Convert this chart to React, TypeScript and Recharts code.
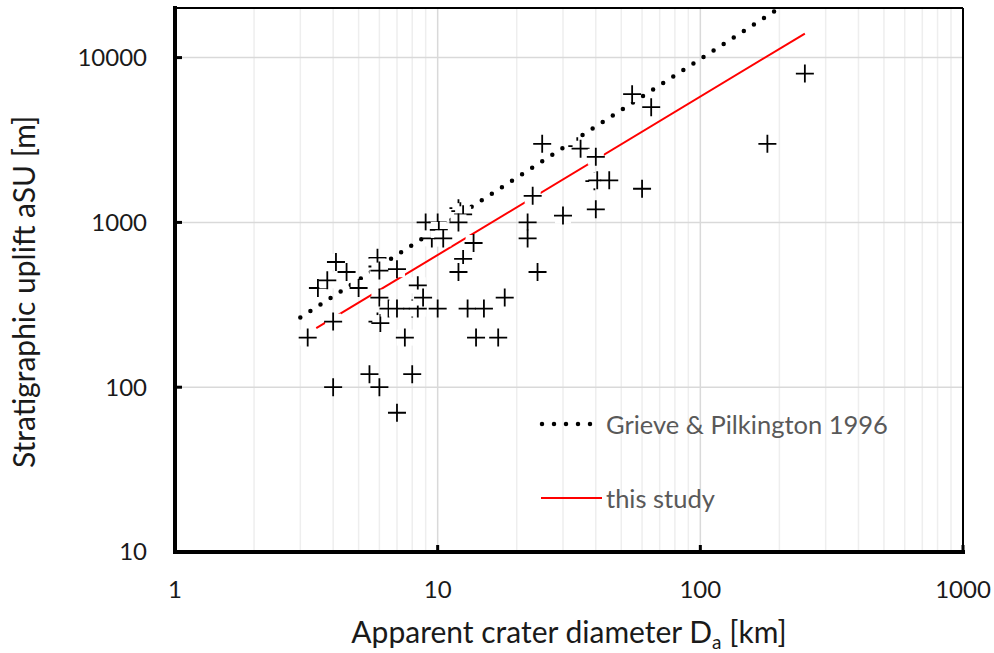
import React from "react";
import { ScatterChart, Scatter, XAxis, YAxis, ReferenceLine, Legend, Label } from "recharts";

// crater data: apparent diameter (km) vs stratigraphic uplift (m)
const craterDiameterKm = [
  3.2, 3.5, 3.8, 4, 4, 4.1, 4.5, 5, 5.5, 5.9, 5.9, 6, 6, 5.9, 6.05, 6, 6.5, 7, 7, 7,
  7.5, 8, 8, 8.4, 8.4, 8.8, 9, 9.5, 10, 10.1, 10.5, 10, 12, 12.2, 12.5, 12, 13.7, 12.5, 12, 13,
  15, 14, 17, 18, 22, 22, 23, 24, 25, 30, 34, 35, 40, 39.5, 40.5, 45, 40, 55, 60, 65,
  180, 250,
];
const upliftM = [
  200, 400, 445, 250, 100, 575, 500, 400, 120, 610, 540, 510, 350, 250, 245, 100, 300, 520, 300, 70,
  200, 300, 120, 300, 415, 350, 1000, 800, 1000, 900, 800, 300, 1220, 1170, 1120, 1000, 750, 600, 500, 300,
  300, 200, 200, 350, 1000, 800, 1450, 500, 3000, 1100, 2900, 2800, 2500, 1780, 1800, 1800, 1200, 6000, 1600, 5000,
  3000, 8000,
];

// Grieve & Pilkington 1996 trend
const grieveX = [3, 195];
const grieveY = [265, 19500];

// this study trend
const studyX = [3.45, 250];
const studyY = [228, 14000];

const xTicks = [1, 10, 100, 1000];
const yTicks = [10, 100, 1000, 10000];
const minorX = [2, 3, 4, 5, 6, 7, 8, 9, 20, 30, 40, 50, 60, 70, 80, 90, 200, 300, 400, 500, 600, 700, 800, 900];

const craters = craterDiameterKm.map((x, i) => ({ x, y: upliftM[i] }));
const grieve = grieveX.map((x, i) => ({ x, y: grieveY[i] }));
const study = studyX.map((x, i) => ({ x, y: studyY[i] }));

const FONT = "Lato, 'Open Sans', sans-serif";

const PlusMarker = (props: any) => {
  const { cx, cy } = props;
  return (
    <g>
      <rect x={cx - 8} y={cy - 8} width={16} height={16} fill="#fff" />
      <path d={`M${cx - 9},${cy}H${cx + 9}M${cx},${cy - 9}V${cy + 9}`} stroke="#000" strokeWidth={1.8} />
    </g>
  );
};

const NoMarker = () => <g />;

const YTick = (props: any) => {
  const { x, y, payload } = props;
  return (
    <g>
      <line x1={x} x2={x + 7} y1={y} y2={y} stroke="#000" strokeWidth={3} />
      <text x={x - 28} y={y} dy="0.35em" textAnchor="end" fontSize={24} fill="#1a1a1a" fontFamily={FONT}>
        {payload.value}
      </text>
    </g>
  );
};

const XTick = (props: any) => {
  const { x, y, payload } = props;
  return (
    <g>
      <line x1={x} x2={x} y1={y} y2={y - 7} stroke="#000" strokeWidth={3} />
      <text x={x} y={y + 38} dy="0.35em" textAnchor="middle" fontSize={24} fill="#1a1a1a" fontFamily={FONT}>
        {payload.value}
      </text>
    </g>
  );
};

const XTitle = (props: any) => {
  const { viewBox } = props;
  const cx = viewBox.x + viewBox.width / 2;
  const y = viewBox.y + viewBox.height - 10;
  return (
    <text x={cx} y={y} textAnchor="middle" fontSize={30} fill="#1a1a1a" fontFamily={FONT}>
      Apparent crater diameter D<tspan fontSize={19} dy={6}>a</tspan>
      <tspan dy={-6}> [km]</tspan>
    </text>
  );
};

const YTitle = (props: any) => {
  const { viewBox } = props;
  const x = viewBox.x + 35;
  const y = viewBox.y + viewBox.height / 2 + 12;
  return (
    <text
      x={x}
      y={y}
      transform={`rotate(-90, ${x}, ${y})`}
      textAnchor="middle"
      fontSize={30}
      fill="#1a1a1a"
      fontFamily={FONT}
    >
      Stratigraphic uplift aSU [m]
    </text>
  );
};

const LegendBox = () => (
  <div style={{ fontFamily: FONT, fontSize: 25.5, color: "#595959" }}>
    <div style={{ display: "flex", alignItems: "center", height: 30 }}>
      <svg width={68} height={10}>
        <line x1={4} x2={64} y1={5} y2={5} stroke="#000" strokeWidth={4.5} strokeDasharray="0 12" strokeLinecap="round" />
      </svg>
      <span>Grieve &amp; Pilkington 1996</span>
    </div>
    <div style={{ display: "flex", alignItems: "center", height: 30, marginTop: 44 }}>
      <svg width={68} height={10}>
        <line x1={3} x2={64} y1={5} y2={5} stroke="#ff0000" strokeWidth={2} />
      </svg>
      <span>this study</span>
    </div>
  </div>
);

export default function App() {
  return (
    <div style={{ position: "absolute", left: 0, top: 0, background: "#fff" }}>
      <ScatterChart width={994} height={653} margin={{ top: 8, right: 31, bottom: 0, left: 0 }}>
        <XAxis
          type="number"
          dataKey="x"
          scale="log"
          domain={[1, 1000]}
          ticks={xTicks}
          allowDataOverflow
          height={101}
          tickSize={0}
          tickMargin={0}
          tick={<XTick />}
          tickLine={false}
          axisLine={{ stroke: "#000", strokeWidth: 4, strokeLinecap: "square" }}
          label={<Label content={<XTitle />} />}
        />
        <YAxis
          type="number"
          dataKey="y"
          scale="log"
          domain={[10, 20000]}
          ticks={yTicks}
          allowDataOverflow
          width={175}
          tickSize={0}
          tickMargin={0}
          tick={<YTick />}
          tickLine={false}
          axisLine={{ stroke: "#000", strokeWidth: 4, strokeLinecap: "square" }}
          label={<Label content={<YTitle />} />}
        />
        {minorX.map((v) => (
          <ReferenceLine key={"mx" + v} x={v} stroke="#eeeeee" strokeWidth={1.5} />
        ))}
        {[10, 100].map((v) => (
          <ReferenceLine key={"gx" + v} x={v} stroke="#d9d9d9" strokeWidth={1.5} />
        ))}
        {[100, 1000, 10000].map((v) => (
          <ReferenceLine key={"gy" + v} y={v} stroke="#d9d9d9" strokeWidth={1.5} />
        ))}
        <ReferenceLine y={20000} stroke="#000" strokeWidth={2} />
        <ReferenceLine x={1000} stroke="#000" strokeWidth={2} />
        <Scatter
          name="Grieve & Pilkington 1996"
          data={grieve}
          shape={<NoMarker />}
          line={{ stroke: "#000", strokeWidth: 4.5, strokeDasharray: "0 12", strokeLinecap: "round" }}
          isAnimationActive={false}
        />
        <Scatter
          name="this study"
          data={study}
          shape={<NoMarker />}
          line={{ stroke: "#ff0000", strokeWidth: 2 }}
          isAnimationActive={false}
        />
        <Scatter name="craters" data={craters} shape={<PlusMarker />} isAnimationActive={false} />
        <Legend
          layout="vertical"
          align="center"
          verticalAlign="middle"
          content={<LegendBox />}
          wrapperStyle={{ position: "absolute", left: 538, top: 409, width: 400 }}
        />
      </ScatterChart>
    </div>
  );
}
